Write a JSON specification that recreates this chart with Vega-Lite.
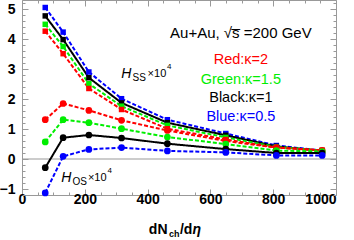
{
  "$schema": "https://vega.github.io/schema/vega-lite/v6.json",
  "width": 314,
  "height": 195,
  "autosize": "none",
  "padding": {"left": 22, "top": 0, "right": 18, "bottom": 45},
  "data": {"values": [{}]},
  "config": {
    "view": {"stroke": "#999999", "strokeWidth": 1},
    "axis": {"labelFont": "Liberation Sans", "labelFontWeight": "bold", "labelFontSize": 14, "labelColor": "black", "tickColor": "#999999", "domain": false, "grid": false, "title": null, "labelOverlap": false},
    "text": {"font": "Liberation Sans"}
  },
  "datasets": {
    "d": [
      {"n": 74, "h": 5.05, "k": "0.5", "obs": "HSS"}, {"n": 131, "h": 4.23, "k": "0.5", "obs": "HSS"}, {"n": 213, "h": 2.90, "k": "0.5", "obs": "HSS"}, {"n": 317, "h": 2.01, "k": "0.5", "obs": "HSS"}, {"n": 463, "h": 1.31, "k": "0.5", "obs": "HSS"}, {"n": 649, "h": 0.85, "k": "0.5", "obs": "HSS"}, {"n": 810, "h": 0.45, "k": "0.5", "obs": "HSS"}, {"n": 956, "h": 0.28, "k": "0.5", "obs": "HSS"},
      {"n": 74, "h": 4.77, "k": "1", "obs": "HSS"}, {"n": 131, "h": 3.98, "k": "1", "obs": "HSS"}, {"n": 213, "h": 2.71, "k": "1", "obs": "HSS"}, {"n": 317, "h": 1.87, "k": "1", "obs": "HSS"}, {"n": 463, "h": 1.21, "k": "1", "obs": "HSS"}, {"n": 649, "h": 0.79, "k": "1", "obs": "HSS"}, {"n": 810, "h": 0.42, "k": "1", "obs": "HSS"}, {"n": 956, "h": 0.27, "k": "1", "obs": "HSS"},
      {"n": 74, "h": 4.49, "k": "1.5", "obs": "HSS"}, {"n": 131, "h": 3.75, "k": "1.5", "obs": "HSS"}, {"n": 213, "h": 2.51, "k": "1.5", "obs": "HSS"}, {"n": 317, "h": 1.76, "k": "1.5", "obs": "HSS"}, {"n": 463, "h": 1.12, "k": "1.5", "obs": "HSS"}, {"n": 649, "h": 0.72, "k": "1.5", "obs": "HSS"}, {"n": 810, "h": 0.40, "k": "1.5", "obs": "HSS"}, {"n": 956, "h": 0.28, "k": "1.5", "obs": "HSS"},
      {"n": 74, "h": 4.26, "k": "2", "obs": "HSS"}, {"n": 131, "h": 3.51, "k": "2", "obs": "HSS"}, {"n": 213, "h": 2.35, "k": "2", "obs": "HSS"}, {"n": 317, "h": 1.65, "k": "2", "obs": "HSS"}, {"n": 463, "h": 1.01, "k": "2", "obs": "HSS"}, {"n": 649, "h": 0.65, "k": "2", "obs": "HSS"}, {"n": 810, "h": 0.38, "k": "2", "obs": "HSS"}, {"n": 956, "h": 0.29, "k": "2", "obs": "HSS"},
      {"n": 74, "h": 1.31, "k": "2", "obs": "HOS"}, {"n": 131, "h": 1.85, "k": "2", "obs": "HOS"}, {"n": 213, "h": 1.62, "k": "2", "obs": "HOS"}, {"n": 317, "h": 1.29, "k": "2", "obs": "HOS"}, {"n": 463, "h": 0.95, "k": "2", "obs": "HOS"}, {"n": 649, "h": 0.60, "k": "2", "obs": "HOS"}, {"n": 810, "h": 0.38, "k": "2", "obs": "HOS"}, {"n": 956, "h": 0.29, "k": "2", "obs": "HOS"},
      {"n": 74, "h": 0.57, "k": "1.5", "obs": "HOS"}, {"n": 131, "h": 1.31, "k": "1.5", "obs": "HOS"}, {"n": 213, "h": 1.21, "k": "1.5", "obs": "HOS"}, {"n": 317, "h": 1.01, "k": "1.5", "obs": "HOS"}, {"n": 463, "h": 0.73, "k": "1.5", "obs": "HOS"}, {"n": 649, "h": 0.50, "k": "1.5", "obs": "HOS"}, {"n": 810, "h": 0.28, "k": "1.5", "obs": "HOS"}, {"n": 956, "h": 0.25, "k": "1.5", "obs": "HOS"},
      {"n": 74, "h": -0.29, "k": "1", "obs": "HOS"}, {"n": 131, "h": 0.71, "k": "1", "obs": "HOS"}, {"n": 213, "h": 0.80, "k": "1", "obs": "HOS"}, {"n": 317, "h": 0.70, "k": "1", "obs": "HOS"}, {"n": 463, "h": 0.51, "k": "1", "obs": "HOS"}, {"n": 649, "h": 0.33, "k": "1", "obs": "HOS"}, {"n": 810, "h": 0.20, "k": "1", "obs": "HOS"}, {"n": 956, "h": 0.20, "k": "1", "obs": "HOS"},
      {"n": 74, "h": -1.13, "k": "0.5", "obs": "HOS"}, {"n": 131, "h": 0.09, "k": "0.5", "obs": "HOS"}, {"n": 213, "h": 0.32, "k": "0.5", "obs": "HOS"}, {"n": 317, "h": 0.38, "k": "0.5", "obs": "HOS"}, {"n": 463, "h": 0.27, "k": "0.5", "obs": "HOS"}, {"n": 649, "h": 0.22, "k": "0.5", "obs": "HOS"}, {"n": 810, "h": 0.12, "k": "0.5", "obs": "HOS"}, {"n": 956, "h": 0.12, "k": "0.5", "obs": "HOS"}
    ]
  },
  "resolve": {"axis": {"x": "independent", "y": "independent"}},
  "layer": [
    {
      "mark": {"type": "rule", "color": "#999999", "strokeWidth": 1},
      "encoding": {"y": {"datum": 0, "type": "quantitative", "scale": {"domain": [-1.2, 5.3], "nice": false, "zero": false}, "axis": null}}
    },
    {
      "data": {"name": "d"},
      "transform": [{"filter": "datum.obs === 'HSS'"}],
      "mark": {"type": "line", "strokeWidth": 2},
      "encoding": {
        "x": {"field": "n", "type": "quantitative", "scale": {"domain": [0, 1000], "nice": false}, "axis": {"orient": "bottom", "values": [0, 200, 400, 600, 800, 1000], "format": "d", "tickSize": -6, "labelPadding": 3, "labelFlush": true, "labelFlushOffset": 0, "labelOffset": {"condition": {"test": "datum.value === 0", "value": -4}, "value": 0}}},
        "y": {"field": "h", "type": "quantitative", "scale": {"domain": [-1.2, 5.3], "nice": false, "zero": false}, "axis": {"orient": "left", "values": [-1, 0, 1, 2, 3, 4, 5], "tickSize": -6, "labelPadding": 13, "labelFlush": false}},
        "color": {"field": "k", "type": "nominal", "scale": {"domain": ["2", "1.5", "1", "0.5"], "range": ["#ff0000", "#00ee00", "#000000", "#0000ff"]}, "legend": null},
        "strokeDash": {"field": "k", "type": "nominal", "scale": {"domain": ["2", "1.5", "1", "0.5"], "range": [[4, 2], [4, 2], [1, 0], [4, 2]]}, "legend": null}
      }
    },
    {
      "data": {"name": "d"},
      "transform": [{"filter": "datum.obs === 'HOS'"}],
      "mark": {"type": "line", "strokeWidth": 2},
      "encoding": {
        "x": {"field": "n", "type": "quantitative", "axis": {"orient": "top", "values": [0, 200, 400, 600, 800, 1000], "tickSize": -6, "labels": false}},
        "y": {"field": "h", "type": "quantitative", "axis": {"orient": "right", "values": [-1, 0, 1, 2, 3, 4, 5], "tickSize": -6, "labels": false}},
        "color": {"field": "k", "type": "nominal", "legend": null},
        "strokeDash": {"field": "k", "type": "nominal", "scale": {"domain": ["2", "1.5", "1", "0.5"], "range": [[9, 4], [9, 4], [1, 0], [9, 4]]}, "legend": null}
      }
    },
    {
      "data": {"name": "d"},
      "transform": [{"filter": "datum.obs === 'HSS'"}],
      "mark": {"type": "point", "shape": "square", "filled": true, "opacity": 1, "size": 30},
      "encoding": {
        "x": {"field": "n", "type": "quantitative", "axis": {"orient": "bottom", "values": [50, 100, 150, 250, 300, 350, 450, 500, 550, 650, 700, 750, 850, 900, 950], "tickSize": -3, "labels": false}},
        "y": {"field": "h", "type": "quantitative", "axis": {"orient": "left", "values": [-1.2, -0.8, -0.6, -0.4, -0.2, 0.2, 0.4, 0.6, 0.8, 1.2, 1.4, 1.6, 1.8, 2.2, 2.4, 2.6, 2.8, 3.2, 3.4, 3.6, 3.8, 4.2, 4.4, 4.6, 4.8, 5.2], "tickSize": -3, "labels": false}},
        "color": {"field": "k", "type": "nominal", "legend": null}
      }
    },
    {
      "data": {"name": "d"},
      "transform": [{"filter": "datum.obs === 'HOS'"}],
      "mark": {"type": "point", "shape": "circle", "filled": true, "opacity": 1, "size": 45},
      "encoding": {
        "x": {"field": "n", "type": "quantitative", "axis": {"orient": "top", "values": [50, 100, 150, 250, 300, 350, 450, 500, 550, 650, 700, 750, 850, 900, 950], "tickSize": -3, "labels": false}},
        "y": {"field": "h", "type": "quantitative", "axis": {"orient": "right", "values": [-1.2, -0.8, -0.6, -0.4, -0.2, 0.2, 0.4, 0.6, 0.8, 1.2, 1.4, 1.6, 1.8, 2.2, 2.4, 2.6, 2.8, 3.2, 3.4, 3.6, 3.8, 4.2, 4.4, 4.6, 4.8, 5.2], "tickSize": -3, "labels": false}},
        "color": {"field": "k", "type": "nominal", "legend": null}
      }
    },
    {"mark": {"type": "text", "align": "center", "baseline": "middle", "fontSize": 15, "color": "black"}, "encoding": {"x": {"datum": 697, "axis": null}, "y": {"datum": 4.2, "axis": null}, "text": {"value": "Au+Au, √s̅ =200 GeV"}}},
    {"mark": {"type": "text", "align": "center", "baseline": "middle", "fontSize": 14.5, "color": "#ff0000"}, "encoding": {"x": {"datum": 697, "axis": null}, "y": {"datum": 3.3, "axis": null}, "text": {"value": "Red:κ=2"}}},
    {"mark": {"type": "text", "align": "center", "baseline": "middle", "fontSize": 14.5, "color": "#00ee00"}, "encoding": {"x": {"datum": 697, "axis": null}, "y": {"datum": 2.633, "axis": null}, "text": {"value": "Green:κ=1.5"}}},
    {"mark": {"type": "text", "align": "center", "baseline": "middle", "fontSize": 14.5, "color": "black"}, "encoding": {"x": {"datum": 697, "axis": null}, "y": {"datum": 2.033, "axis": null}, "text": {"value": "Black:κ=1"}}},
    {"mark": {"type": "text", "align": "center", "baseline": "middle", "fontSize": 14.5, "color": "#0000ff"}, "encoding": {"x": {"datum": 697, "axis": null}, "y": {"datum": 1.4, "axis": null}, "text": {"value": "Blue:κ=0.5"}}},
    {"mark": {"type": "text", "align": "left", "baseline": "middle", "fontSize": 14, "fontStyle": "italic", "color": "black"}, "encoding": {"x": {"datum": 316, "axis": null}, "y": {"datum": 2.833, "axis": null}, "text": {"value": "H"}}},
    {"mark": {"type": "text", "align": "left", "baseline": "middle", "fontSize": 10, "color": "black"}, "encoding": {"x": {"datum": 352, "axis": null}, "y": {"datum": 2.7, "axis": null}, "text": {"value": "SS"}}},
    {"mark": {"type": "text", "align": "left", "baseline": "middle", "fontSize": 11, "color": "black"}, "encoding": {"x": {"datum": 400, "axis": null}, "y": {"datum": 2.833, "axis": null}, "text": {"value": "×10"}}},
    {"mark": {"type": "text", "align": "left", "baseline": "middle", "fontSize": 8, "color": "black"}, "encoding": {"x": {"datum": 462, "axis": null}, "y": {"datum": 3.067, "axis": null}, "text": {"value": "4"}}},
    {"mark": {"type": "text", "align": "left", "baseline": "middle", "fontSize": 14, "fontStyle": "italic", "color": "black"}, "encoding": {"x": {"datum": 125, "axis": null}, "y": {"datum": -0.633, "axis": null}, "text": {"value": "H"}}},
    {"mark": {"type": "text", "align": "left", "baseline": "middle", "fontSize": 10, "color": "black"}, "encoding": {"x": {"datum": 161, "axis": null}, "y": {"datum": -0.767, "axis": null}, "text": {"value": "OS"}}},
    {"mark": {"type": "text", "align": "left", "baseline": "middle", "fontSize": 11, "color": "black"}, "encoding": {"x": {"datum": 210, "axis": null}, "y": {"datum": -0.633, "axis": null}, "text": {"value": "×10"}}},
    {"mark": {"type": "text", "align": "left", "baseline": "middle", "fontSize": 8, "color": "black"}, "encoding": {"x": {"datum": 272, "axis": null}, "y": {"datum": -0.4, "axis": null}, "text": {"value": "4"}}},
    {"mark": {"type": "text", "align": "left", "baseline": "middle", "fontSize": 14, "fontWeight": "bold", "color": "black"}, "encoding": {"x": {"datum": 404, "axis": null}, "y": {"datum": -2.367, "axis": null}, "text": {"value": "dN"}}},
    {"mark": {"type": "text", "align": "left", "baseline": "middle", "fontSize": 9, "fontWeight": "bold", "color": "black"}, "encoding": {"x": {"datum": 468, "axis": null}, "y": {"datum": -2.5, "axis": null}, "text": {"value": "ch"}}},
    {"mark": {"type": "text", "align": "left", "baseline": "middle", "fontSize": 14, "fontWeight": "bold", "color": "black"}, "encoding": {"x": {"datum": 503, "axis": null}, "y": {"datum": -2.367, "axis": null}, "text": {"value": "/d"}}},
    {"mark": {"type": "text", "align": "left", "baseline": "middle", "fontSize": 14, "fontWeight": "bold", "fontStyle": "italic", "color": "black"}, "encoding": {"x": {"datum": 543, "axis": null}, "y": {"datum": -2.367, "axis": null}, "text": {"value": "η"}}}
  ]
}
